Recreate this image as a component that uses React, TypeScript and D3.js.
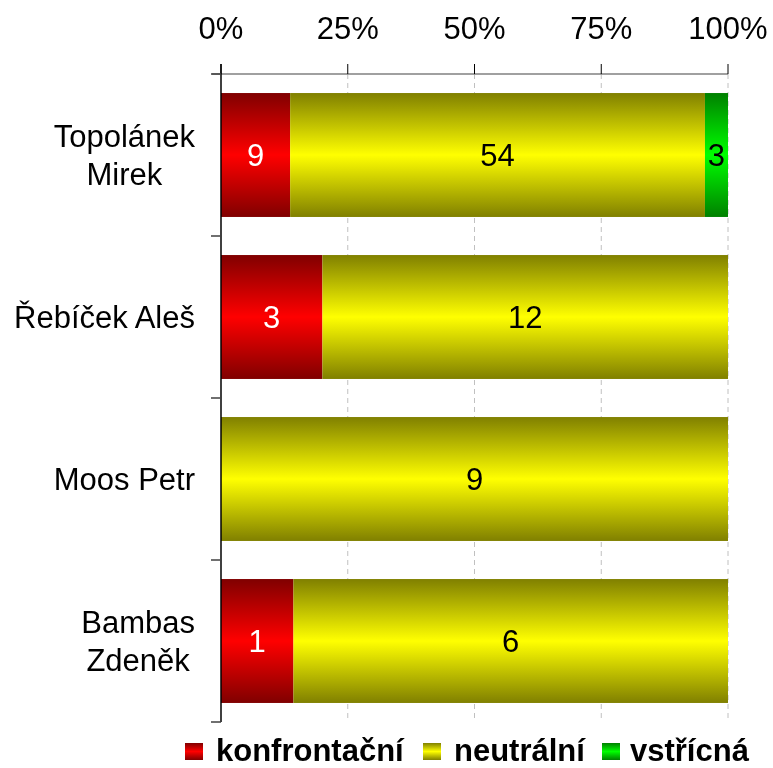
import { useRef, useEffect } from "react";
import * as d3 from "d3";

const categories = [["Topolánek", "Mirek"], ["Řebíček Aleš"], ["Moos Petr"], ["Bambas", "Zdeněk"]];
const seriesNames = ["konfrontační", "neutrální", "vstřícná"];
const konfrontacni = [9, 3, 0, 1];
const neutralni = [54, 12, 9, 6];
const vstricna = [3, 0, 0, 0];
const tickLabels = ["0%", "25%", "50%", "75%", "100%"];

const darkColors = ["#800000", "#808000", "#008000"];
const brightColors = ["#ff0000", "#ffff00", "#00ff00"];
const labelColors = ["#ffffff", "#000000", "#000000"];

export default function App() {
  const svgRef = useRef<SVGSVGElement>(null);

  useEffect(() => {
    const W = 773, H = 768;
    const left = 221, right = 728, top = 74, bottom = 722;
    const fs = 31;
    const font = "'Liberation Sans', Arial, sans-serif";

    const svg = d3.select(svgRef.current)
      .attr("width", W)
      .attr("height", H)
      .style("display", "block")
      .style("position", "fixed")
      .style("left", "0px")
      .style("top", "0px")
      .style("font-family", font);
    svg.selectAll("*").remove();

    const defs = svg.append("defs");
    seriesNames.forEach((s, i) => {
      const g = defs.append("linearGradient")
        .attr("id", "grad" + i)
        .attr("x1", 0).attr("y1", 0).attr("x2", 0).attr("y2", 1);
      g.append("stop").attr("offset", "0%").attr("stop-color", darkColors[i]);
      g.append("stop").attr("offset", "50%").attr("stop-color", brightColors[i]);
      g.append("stop").attr("offset", "100%").attr("stop-color", darkColors[i]);
    });

    const x = d3.scaleLinear().domain([0, 1]).range([left, right]);
    const y = d3.scaleBand<number>()
      .domain(d3.range(categories.length))
      .range([top, bottom])
      .paddingInner(0.235)
      .paddingOuter(0.1175);

    // gridlines
    svg.append("g")
      .selectAll("line")
      .data([0.25, 0.5, 0.75, 1])
      .enter()
      .append("line")
      .attr("x1", d => x(d)).attr("x2", d => x(d))
      .attr("y1", top).attr("y2", bottom)
      .attr("stroke", "#c0c0c0")
      .attr("stroke-dasharray", "5,4");

    // stacked data
    const rows = categories.map((c, i) => {
      const vals = [konfrontacni[i], neutralni[i], vstricna[i]];
      const total = d3.sum(vals);
      let acc = 0;
      return vals.map((v, k) => {
        const start = acc / total;
        acc += v;
        return { cat: i, series: k, value: v, x0: start, x1: acc / total };
      });
    });

    const segs = rows.flat().filter(d => d.value > 0);

    svg.append("g")
      .selectAll("rect")
      .data(segs)
      .enter()
      .append("rect")
      .attr("x", d => x(d.x0))
      .attr("y", d => y(d.cat)!)
      .attr("width", d => x(d.x1) - x(d.x0))
      .attr("height", y.bandwidth())
      .attr("fill", d => `url(#grad${d.series})`);

    svg.append("g")
      .selectAll("text")
      .data(segs)
      .enter()
      .append("text")
      .attr("x", d => (x(d.x0) + x(d.x1)) / 2)
      .attr("y", d => y(d.cat)! + y.bandwidth() / 2)
      .attr("dy", "0.36em")
      .attr("text-anchor", "middle")
      .attr("font-size", fs)
      .attr("fill", d => labelColors[d.series])
      .text(d => d.value);

    // top axis
    const axisG = svg.append("g");
    axisG.append("line")
      .attr("x1", left - 9).attr("x2", right)
      .attr("y1", top).attr("y2", top)
      .attr("stroke", "#808080").attr("stroke-width", 1.5);
    axisG.selectAll("line.tick")
      .data([0, 0.25, 0.5, 0.75, 1])
      .enter()
      .append("line")
      .attr("class", "tick")
      .attr("x1", d => x(d)).attr("x2", d => x(d))
      .attr("y1", top - 10).attr("y2", top)
      .attr("stroke", "#000");
    axisG.selectAll("text")
      .data(tickLabels)
      .enter()
      .append("text")
      .attr("x", (d, i) => x(i * 0.25))
      .attr("y", 39)
      .attr("text-anchor", "middle")
      .attr("font-size", fs)
      .attr("fill", "#000")
      .text(d => d);

    // left axis
    svg.append("line")
      .attr("x1", left).attr("x2", left)
      .attr("y1", top - 10).attr("y2", bottom)
      .attr("stroke", "#000").attr("stroke-width", 1.5);
    svg.append("g")
      .selectAll("line")
      .data(d3.range(categories.length + 1))
      .enter()
      .append("line")
      .attr("x1", left - 10).attr("x2", left)
      .attr("y1", d => top + d * y.step())
      .attr("y2", d => top + d * y.step())
      .attr("stroke", "#404040").attr("stroke-width", 1.5);

    // category labels
    const catG = svg.append("g");
    categories.forEach((lines, i) => {
      const cy = y(i)! + y.bandwidth() / 2;
      const t = catG.append("text")
        .attr("text-anchor", "middle")
        .attr("font-size", fs)
        .attr("fill", "#000");
      const lh = 38;
      const y0 = cy - ((lines.length - 1) * lh) / 2;
      const spans = lines.map((ln, k) =>
        t.append("tspan").attr("y", y0 + k * lh).attr("dy", "0.36em").text(ln)
      );
      const maxW = d3.max(spans, s => (s.node() as SVGTSpanElement).getComputedTextLength()) || 0;
      spans.forEach(s => s.attr("x", 195 - maxW / 2));
    });

    // legend
    const legX = [185, 423, 602];
    const leg = svg.append("g");
    seriesNames.forEach((s, i) => {
      leg.append("rect")
        .attr("x", legX[i]).attr("y", 743)
        .attr("width", 18).attr("height", 17)
        .attr("fill", `url(#grad${i})`);
      leg.append("text")
        .attr("x", legX[i] + (i === 2 ? 28 : 31))
        .attr("y", 761)
        .attr("font-size", fs)
        .attr("font-weight", "bold")
        .attr("fill", "#000")
        .text(s);
    });
  }, []);

  return (
    <div>
      <svg ref={svgRef} />
    </div>
  );
}
